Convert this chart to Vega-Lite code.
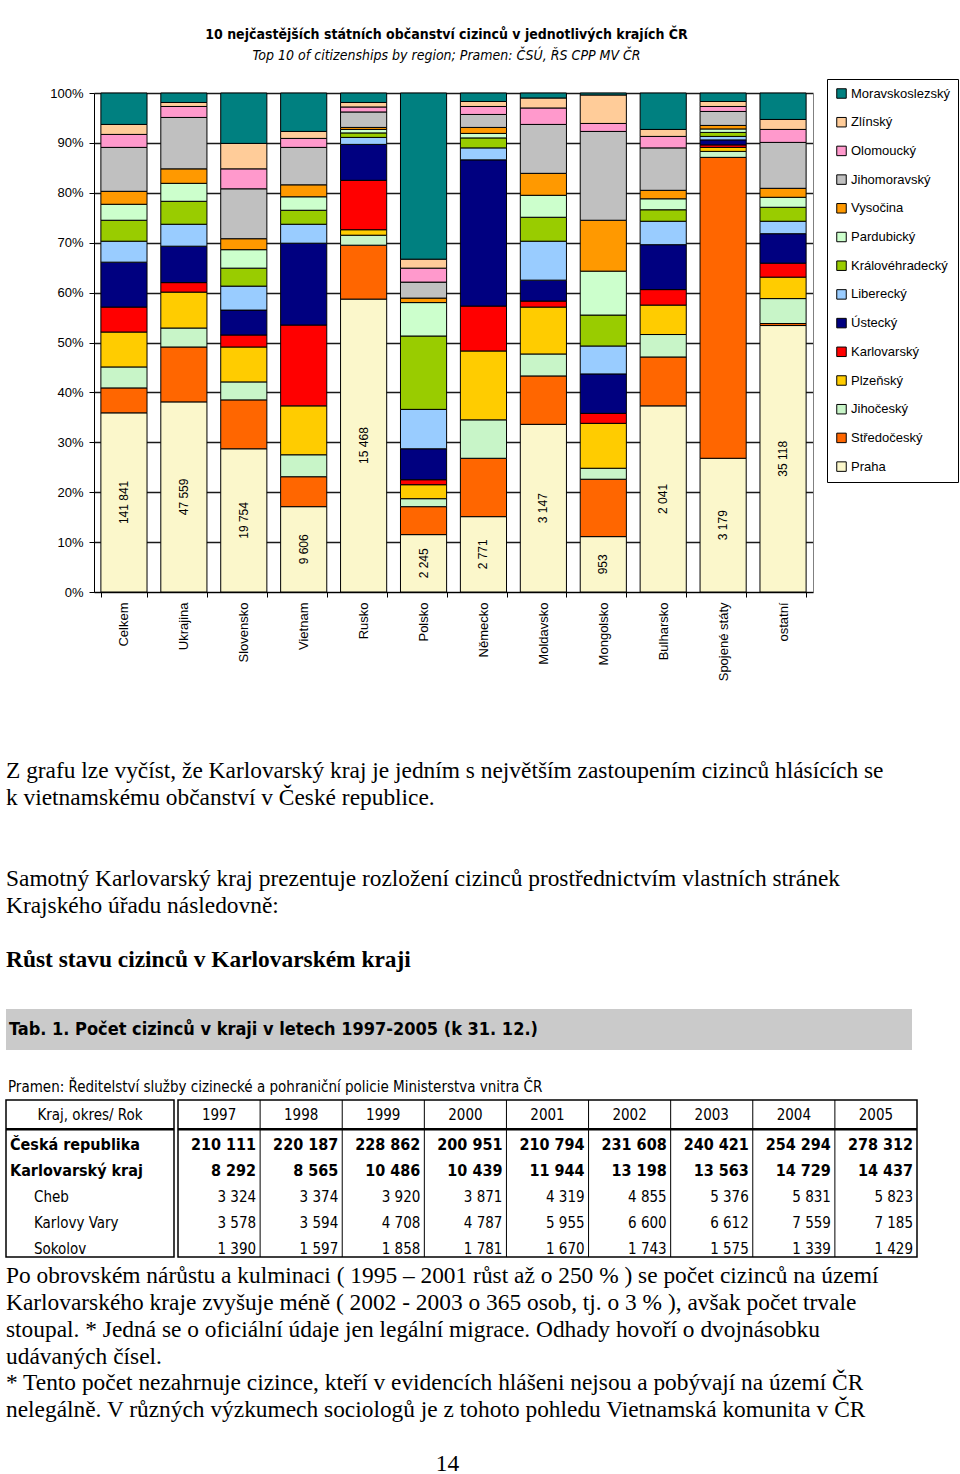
{
  "$schema": "https://vega.github.io/schema/vega-lite/v6.json",
  "background": "white",
  "padding": {"left": 0, "top": 28, "right": 0, "bottom": 0},
  "spacing": 0,
  "bounds": "full",
  "align": "none",
  "columns": 1,
  "config": {
    "view": {"stroke": null},
    "font": "Liberation Sans",
    "locale": {"number": {"decimal": ",", "thousands": " ", "grouping": [3], "currency": ["", ""]}},
    "axis": {"labelFont": "Liberation Sans", "labelColor": "#000", "domainColor": "#000", "tickColor": "#000"}
  },
  "datasets": {
    "bars": [
      {"country": "Celkem", "total": 141841, "Praha": 35.9, "Středočeský": 5.0, "Jihočeský": 4.2, "Plzeňský": 7.0, "Karlovarský": 5.0, "Ústecký": 9.0, "Liberecký": 4.2, "Královéhradecký": 4.2, "Pardubický": 3.2, "Vysočina": 2.6, "Jihomoravský": 8.8, "Olomoucký": 2.6, "Zlínský": 2.0, "Moravskoslezský": 6.3},
      {"country": "Ukrajina", "total": 47559, "Praha": 38.1, "Středočeský": 11.0, "Jihočeský": 3.8, "Plzeňský": 7.2, "Karlovarský": 1.9, "Ústecký": 7.3, "Liberecký": 4.4, "Královéhradecký": 4.6, "Pardubický": 3.6, "Vysočina": 2.9, "Jihomoravský": 10.3, "Olomoucký": 2.2, "Zlínský": 0.8, "Moravskoslezský": 1.9},
      {"country": "Slovensko", "total": 19754, "Praha": 28.7, "Středočeský": 9.8, "Jihočeský": 3.6, "Plzeňský": 7.0, "Karlovarský": 2.4, "Ústecký": 5.0, "Liberecký": 4.8, "Královéhradecký": 3.6, "Pardubický": 3.7, "Vysočina": 2.2, "Jihomoravský": 10.0, "Olomoucký": 4.0, "Zlínský": 5.1, "Moravskoslezský": 10.1},
      {"country": "Vietnam", "total": 9606, "Praha": 17.1, "Středočeský": 6.0, "Jihočeský": 4.4, "Plzeňský": 9.8, "Karlovarský": 16.2, "Ústecký": 16.4, "Liberecký": 3.8, "Královéhradecký": 2.8, "Pardubický": 2.7, "Vysočina": 2.4, "Jihomoravský": 7.5, "Olomoucký": 1.8, "Zlínský": 1.4, "Moravskoslezský": 7.7},
      {"country": "Rusko", "total": 15468, "Praha": 58.7, "Středočeský": 10.8, "Jihočeský": 2.0, "Plzeňský": 1.1, "Karlovarský": 9.9, "Ústecký": 7.2, "Liberecký": 1.4, "Královéhradecký": 0.9, "Pardubický": 0.7, "Vysočina": 0.4, "Jihomoravský": 3.1, "Olomoucký": 1.0, "Zlínský": 0.9, "Moravskoslezský": 1.9},
      {"country": "Polsko", "total": 2245, "Praha": 11.5, "Středočeský": 5.6, "Jihočeský": 1.6, "Plzeňský": 2.8, "Karlovarský": 1.0, "Ústecký": 6.2, "Liberecký": 7.9, "Královéhradecký": 14.7, "Pardubický": 6.7, "Vysočina": 0.9, "Jihomoravský": 3.2, "Olomoucký": 2.8, "Zlínský": 1.8, "Moravskoslezský": 33.3},
      {"country": "Německo", "total": 2771, "Praha": 15.1, "Středočeský": 11.7, "Jihočeský": 7.7, "Plzeňský": 13.8, "Karlovarský": 9.0, "Ústecký": 29.3, "Liberecký": 2.4, "Královéhradecký": 2.0, "Pardubický": 0.9, "Vysočina": 1.2, "Jihomoravský": 2.6, "Olomoucký": 1.6, "Zlínský": 1.0, "Moravskoslezský": 1.7},
      {"country": "Moldavsko", "total": 3147, "Praha": 33.6, "Středočeský": 9.7, "Jihočeský": 4.4, "Plzeňský": 9.4, "Karlovarský": 1.2, "Ústecký": 4.2, "Liberecký": 7.8, "Královéhradecký": 4.8, "Pardubický": 4.4, "Vysočina": 4.4, "Jihomoravský": 9.8, "Olomoucký": 3.3, "Zlínský": 2.0, "Moravskoslezský": 1.0},
      {"country": "Mongolsko", "total": 953, "Praha": 11.1, "Středočeský": 11.5, "Jihočeský": 2.2, "Plzeňský": 9.0, "Karlovarský": 2.0, "Ústecký": 7.9, "Liberecký": 5.6, "Královéhradecký": 6.2, "Pardubický": 8.8, "Vysočina": 10.2, "Jihomoravský": 17.8, "Olomoucký": 1.6, "Zlínský": 5.7, "Moravskoslezský": 0.4},
      {"country": "Bulharsko", "total": 2041, "Praha": 37.3, "Středočeský": 9.8, "Jihočeský": 4.5, "Plzeňský": 5.9, "Karlovarský": 3.1, "Ústecký": 9.0, "Liberecký": 4.7, "Královéhradecký": 2.3, "Pardubický": 2.2, "Vysočina": 1.7, "Jihomoravský": 8.5, "Olomoucký": 2.3, "Zlínský": 1.4, "Moravskoslezský": 7.3},
      {"country": "Spojené státy", "total": 3179, "Praha": 26.8, "Středočeský": 60.3, "Jihočeský": 1.2, "Plzeňský": 0.8, "Karlovarský": 0.5, "Ústecký": 1.0, "Liberecký": 0.7, "Královéhradecký": 0.8, "Pardubický": 0.7, "Vysočina": 0.7, "Jihomoravský": 2.8, "Olomoucký": 1.0, "Zlínský": 1.0, "Moravskoslezský": 1.7},
      {"country": "ostatní", "total": 35118, "Praha": 53.4, "Středočeský": 0.4, "Jihočeský": 5.0, "Plzeňský": 4.3, "Karlovarský": 2.8, "Ústecký": 5.9, "Liberecký": 2.5, "Královéhradecký": 2.8, "Pardubický": 2.0, "Vysočina": 1.8, "Jihomoravský": 9.2, "Olomoucký": 2.6, "Zlínský": 2.0, "Moravskoslezský": 5.3}
    ],
    "table": [
      {"row": "Česká republika", "1997": 210111, "1998": 220187, "1999": 228862, "2000": 200951, "2001": 210794, "2002": 231608, "2003": 240421, "2004": 254294, "2005": 278312},
      {"row": "Karlovarský kraj", "1997": 8292, "1998": 8565, "1999": 10486, "2000": 10439, "2001": 11944, "2002": 13198, "2003": 13563, "2004": 14729, "2005": 14437},
      {"row": "Cheb", "1997": 3324, "1998": 3374, "1999": 3920, "2000": 3871, "2001": 4319, "2002": 4855, "2003": 5376, "2004": 5831, "2005": 5823},
      {"row": "Karlovy Vary", "1997": 3578, "1998": 3594, "1999": 4708, "2000": 4787, "2001": 5955, "2002": 6600, "2003": 6612, "2004": 7559, "2005": 7185},
      {"row": "Sokolov", "1997": 1390, "1998": 1597, "1999": 1858, "2000": 1781, "2001": 1670, "2002": 1743, "2003": 1575, "2004": 1339, "2005": 1429}
    ]
  },
  "concat": [
    {
      "title": {
        "text": "10 nejčastějších státních občanství cizinců v jednotlivých krajích ČR",
        "subtitle": "Top 10 of citizenships by region;  Pramen: ČSÚ, ŘS CPP MV ČR",
        "font": "Liberation Sans Narrow, DejaVu Sans Condensed, sans-serif",
        "fontSize": 14, "fontWeight": "bold", "color": "#000",
        "subtitleFont": "Liberation Sans Narrow, DejaVu Sans Condensed, sans-serif",
        "subtitleFontSize": 14, "subtitleFontStyle": "italic", "subtitleColor": "#000",
        "subtitlePadding": 7, "offset": 24, "anchor": "middle", "frame": "group", "dx": 37
      },
      "width": 807,
      "height": 499,
      "data": {"name": "bars"},
      "transform": [
        {"fold": ["Praha", "Středočeský", "Jihočeský", "Plzeňský", "Karlovarský", "Ústecký", "Liberecký", "Královéhradecký", "Pardubický", "Vysočina", "Jihomoravský", "Olomoucký", "Zlínský", "Moravskoslezský"], "as": ["kraj", "share"]},
        {"calculate": "indexof(['Praha','Středočeský','Jihočeský','Plzeňský','Karlovarský','Ústecký','Liberecký','Královéhradecký','Pardubický','Vysočina','Jihomoravský','Olomoucký','Zlínský','Moravskoslezský'], datum.kraj)", "as": "stackOrder"}
      ],
      "resolve": {"axis": {"y": "independent"}},
      "layer": [
        {
          "mark": {"type": "bar", "stroke": "#000", "strokeWidth": 1},
          "encoding": {
            "x": {
              "field": "country", "type": "nominal",
              "sort": ["Celkem", "Ukrajina", "Slovensko", "Vietnam", "Rusko", "Polsko", "Německo", "Moldavsko", "Mongolsko", "Bulharsko", "Spojené státy", "ostatní"],
              "scale": {"paddingInner": 0.23, "paddingOuter": 0.115, "range": [88, 807]},
              "axis": {"title": null, "labelAngle": -90, "tickBand": "extent", "labelFontSize": 13, "labelPadding": 5, "tickSize": 5, "minExtent": 162.5, "domainWidth": 1}
            },
            "y": {
              "field": "share", "type": "quantitative", "stack": "zero",
              "scale": {"domain": [0, 100], "nice": false},
              "axis": {"title": null, "values": [0, 10, 20, 30, 40, 50, 60, 70, 80, 90, 100], "labelExpr": "datum.value + '%'", "labelFontSize": 13, "labelPadding": 6, "tickSize": 5, "grid": true, "gridColor": "#1a1a1a", "gridWidth": 1.5, "offset": -88, "minExtent": 0}
            },
            "color": {
              "field": "kraj", "type": "nominal",
              "scale": {
                "domain": ["Moravskoslezský", "Zlínský", "Olomoucký", "Jihomoravský", "Vysočina", "Pardubický", "Královéhradecký", "Liberecký", "Ústecký", "Karlovarský", "Plzeňský", "Jihočeský", "Středočeský", "Praha"],
                "range": ["#008080", "#FFCC99", "#FF99CC", "#C0C0C0", "#FF9900", "#CCFFCC", "#99CC00", "#99CCFF", "#000080", "#FF0000", "#FFCC00", "#C8F5C8", "#FF6600", "#FBF7CB"]
              },
              "legend": {
                "title": null, "orient": "none", "legendX": 821, "legendY": -14,
                "symbolType": "square", "symbolSize": 90, "symbolStrokeColor": "#000", "symbolStrokeWidth": 1,
                "labelFontSize": 13, "labelFont": "Liberation Sans", "labelColor": "#000", "labelOffset": 3,
                "rowPadding": 13.7, "padding": 8, "strokeColor": "#000", "fillColor": "#fff"
              }
            },
            "order": {"field": "stackOrder", "type": "quantitative", "sort": "ascending"}
          }
        },
        {
          "transform": [{"filter": "datum.kraj === 'Praha'"}, {"calculate": "datum.share / 2", "as": "mid"}],
          "mark": {"type": "text", "angle": 270, "fontSize": 12, "font": "Liberation Sans", "color": "#000", "align": "center", "baseline": "middle"},
          "encoding": {
            "x": {"field": "country", "type": "nominal", "sort": ["Celkem", "Ukrajina", "Slovensko", "Vietnam", "Rusko", "Polsko", "Německo", "Moldavsko", "Mongolsko", "Bulharsko", "Spojené státy", "ostatní"]},
            "y": {"field": "mid", "type": "quantitative", "axis": {"orient": "right", "title": null, "labels": false, "ticks": false, "grid": false, "domainColor": "#808080", "minExtent": 0}},
            "text": {"field": "total", "type": "quantitative", "format": ",d"}
          }
        }
      ]
    },
    {
      "width": 883,
      "height": 253.5,
      "data": {"values": [
        {"line": 0, "text": "Z grafu lze vyčíst, že  Karlovarský kraj je jedním s největším zastoupením cizinců hlásících se"},
        {"line": 1, "text": "k vietnamskému občanství v České republice."},
        {"line": 4, "text": "Samotný Karlovarský kraj prezentuje rozložení cizinců prostřednictvím vlastních stránek"},
        {"line": 5, "text": "Krajského úřadu následovně:"},
        {"line": 7, "text": "Růst stavu cizinců v Karlovarském kraji"}
      ]},
      "encoding": {
        "x": {"datum": 0, "type": "quantitative", "scale": {"domain": [0, 1]}, "axis": null},
        "y": {"field": "line", "type": "ordinal", "scale": {"type": "band", "domain": [0, 1, 2, 3, 4, 5, 6, 7], "paddingInner": 0, "paddingOuter": 0.694, "align": 0}, "axis": null},
        "text": {"field": "text"}
      },
      "layer": [
        {"transform": [{"filter": "datum.line !== 7"}], "mark": {"type": "text", "align": "left", "baseline": "middle", "font": "Liberation Serif", "fontSize": 23.4, "color": "#000", "dy": 2}},
        {"transform": [{"filter": "datum.line === 7"}], "mark": {"type": "text", "align": "left", "baseline": "middle", "font": "Liberation Serif", "fontSize": 23.4, "fontWeight": "bold", "color": "#000", "dy": 2}}
      ]
    },
    {
      "width": 906,
      "height": 41,
      "view": {"fill": "#CACACA", "stroke": null},
      "data": {"values": [{"t": "Tab. 1. Počet cizinců v kraji v letech 1997-2005 (k 31. 12.)"}]},
      "mark": {"type": "text", "align": "left", "baseline": "middle", "font": "Liberation Sans Narrow, DejaVu Sans Condensed, sans-serif", "fontSize": 18, "fontWeight": "bold", "color": "#000", "dx": 3},
      "encoding": {
        "x": {"datum": 0, "type": "quantitative", "scale": {"domain": [0, 1]}, "axis": null},
        "text": {"field": "t"}
      }
    },
    {
      "width": 906,
      "height": 48,
      "data": {"values": [{"t": "Pramen: Ředitelství služby cizinecké a pohraniční policie Ministerstva vnitra ČR"}]},
      "mark": {"type": "text", "align": "left", "baseline": "middle", "font": "Liberation Sans Narrow, DejaVu Sans Condensed, sans-serif", "fontSize": 15, "color": "#000", "dx": 2, "dy": 13},
      "encoding": {
        "x": {"datum": 0, "type": "quantitative", "scale": {"domain": [0, 1]}, "axis": null},
        "text": {"field": "t"}
      }
    },
    {
      "spacing": 0,
      "hconcat": [
        {
          "width": 168,
          "height": 157,
          "view": {"stroke": "#000", "strokeWidth": 1.5},
          "data": {"values": [
            {"row": "hdr", "label": "Kraj, okres/ Rok"},
            {"row": "Česká republika", "label": "Česká republika"},
            {"row": "Karlovarský kraj", "label": "Karlovarský kraj"},
            {"row": "Cheb", "label": "Cheb"},
            {"row": "Karlovy Vary", "label": "Karlovy Vary"},
            {"row": "Sokolov", "label": "Sokolov"}
          ]},
          "layer": [
            {
              "transform": [{"filter": "datum.row === 'hdr'"}],
              "mark": {"type": "text", "font": "Liberation Sans Narrow, DejaVu Sans Condensed, sans-serif", "fontSize": 15, "color": "#000", "dy": 2},
              "encoding": {
                "y": {"field": "row", "type": "nominal", "scale": {"type": "band", "domain": ["hdr", "Česká republika", "Karlovarský kraj", "Cheb", "Karlovy Vary", "Sokolov"], "paddingInner": 0, "paddingOuter": 0}, "axis": null},
                "text": {"field": "label"}
              }
            },
            {
              "transform": [{"filter": "datum.row === 'Česká republika' || datum.row === 'Karlovarský kraj'"}],
              "mark": {"type": "text", "align": "left", "font": "Liberation Sans Narrow, DejaVu Sans Condensed, sans-serif", "fontSize": 16, "fontWeight": "bold", "color": "#000", "dx": 4, "dy": 6},
              "encoding": {
                "x": {"datum": 0, "type": "quantitative", "scale": {"domain": [0, 1]}, "axis": null},
                "y": {"field": "row", "type": "nominal", "axis": null},
                "text": {"field": "label"}
              }
            },
            {
              "transform": [{"filter": "indexof(['Cheb','Karlovy Vary','Sokolov'], datum.row) >= 0"}],
              "mark": {"type": "text", "align": "left", "font": "Liberation Sans Narrow, DejaVu Sans Condensed, sans-serif", "fontSize": 15, "color": "#000", "dx": 28, "dy": 5},
              "encoding": {
                "x": {"datum": 0, "type": "quantitative", "scale": {"domain": [0, 1]}, "axis": null},
                "y": {"field": "row", "type": "nominal", "axis": null},
                "text": {"field": "label"}
              }
            },
            {
              "transform": [{"filter": "datum.row === 'Česká republika'"}],
              "mark": {"type": "rule", "color": "#000", "strokeWidth": 2.5, "yOffset": 3},
              "encoding": {
                "y": {"field": "row", "type": "nominal", "bandPosition": 0, "axis": null}
              }
            }
          ]
        },
        {
          "width": 739,
          "height": 157,
          "view": {"stroke": "#000", "strokeWidth": 1.5},
          "data": {"name": "table"},
          "layer": [
            {
              "data": {"values": [
                {"row": "hdr", "year": "1997"}, {"row": "hdr", "year": "1998"}, {"row": "hdr", "year": "1999"},
                {"row": "hdr", "year": "2000"}, {"row": "hdr", "year": "2001"}, {"row": "hdr", "year": "2002"},
                {"row": "hdr", "year": "2003"}, {"row": "hdr", "year": "2004"}, {"row": "hdr", "year": "2005"}
              ]},
              "mark": {"type": "text", "font": "Liberation Sans Narrow, DejaVu Sans Condensed, sans-serif", "fontSize": 15, "color": "#000", "dy": 2},
              "encoding": {
                "x": {"field": "year", "type": "nominal", "scale": {"type": "band", "domain": ["1997", "1998", "1999", "2000", "2001", "2002", "2003", "2004", "2005"], "paddingInner": 0, "paddingOuter": 0}, "axis": null},
                "y": {"field": "row", "type": "nominal", "scale": {"type": "band", "domain": ["hdr", "Česká republika", "Karlovarský kraj", "Cheb", "Karlovy Vary", "Sokolov"], "paddingInner": 0, "paddingOuter": 0}, "axis": null},
                "text": {"field": "year"}
              }
            },
            {
              "transform": [
                {"fold": ["1997", "1998", "1999", "2000", "2001", "2002", "2003", "2004", "2005"], "as": ["year", "value"]},
                {"filter": "datum.row === 'Česká republika' || datum.row === 'Karlovarský kraj'"}
              ],
              "mark": {"type": "text", "align": "right", "font": "Liberation Sans Narrow, DejaVu Sans Condensed, sans-serif", "fontSize": 16, "fontWeight": "bold", "color": "#000", "dx": -4, "dy": 6},
              "encoding": {
                "x": {"field": "year", "type": "nominal", "bandPosition": 1, "axis": null},
                "y": {"field": "row", "type": "nominal", "axis": null},
                "text": {"field": "value", "type": "quantitative", "format": ",d"}
              }
            },
            {
              "transform": [
                {"fold": ["1997", "1998", "1999", "2000", "2001", "2002", "2003", "2004", "2005"], "as": ["year", "value"]},
                {"filter": "datum.row !== 'Česká republika' && datum.row !== 'Karlovarský kraj'"}
              ],
              "mark": {"type": "text", "align": "right", "font": "Liberation Sans Narrow, DejaVu Sans Condensed, sans-serif", "fontSize": 15, "color": "#000", "dx": -4, "dy": 5},
              "encoding": {
                "x": {"field": "year", "type": "nominal", "bandPosition": 1, "axis": null},
                "y": {"field": "row", "type": "nominal", "axis": null},
                "text": {"field": "value", "type": "quantitative", "format": ",d"}
              }
            },
            {
              "transform": [
                {"fold": ["1998", "1999", "2000", "2001", "2002", "2003", "2004", "2005"], "as": ["year", "value"]},
                {"filter": "datum.row === 'Česká republika'"}
              ],
              "mark": {"type": "rule", "color": "#000", "strokeWidth": 1},
              "encoding": {
                "x": {"field": "year", "type": "nominal", "bandPosition": 0, "axis": null}
              }
            },
            {
              "transform": [{"filter": "datum.row === 'Česká republika'"}],
              "mark": {"type": "rule", "color": "#000", "strokeWidth": 2.5, "yOffset": 3},
              "encoding": {
                "y": {"field": "row", "type": "nominal", "bandPosition": 0, "axis": null}
              }
            }
          ]
        }
      ]
    },
    {
      "width": 883,
      "height": 214,
      "data": {"values": [
        {"line": 0, "text": "Po obrovském nárůstu a kulminaci ( 1995 – 2001 růst až o 250 % ) se  počet cizinců na území"},
        {"line": 1, "text": "Karlovarského kraje zvyšuje méně ( 2002 - 2003 o 365 osob, tj. o 3 % ), avšak počet trvale"},
        {"line": 2, "text": "stoupal. * Jedná se o oficiální údaje jen legální migrace.  Odhady hovoří o dvojnásobku"},
        {"line": 3, "text": "udávaných čísel."},
        {"line": 4, "text": "* Tento počet nezahrnuje cizince, kteří v evidencích hlášeni nejsou a pobývají na území ČR"},
        {"line": 5, "text": "nelegálně. V různých výzkumech sociologů je z tohoto pohledu Vietnamská komunita v ČR"},
        {"line": 7, "text": "14"}
      ]},
      "layer": [
        {
          "transform": [{"filter": "datum.line !== 7"}],
          "mark": {"type": "text", "align": "left", "baseline": "middle", "font": "Liberation Serif", "fontSize": 23.4, "color": "#000", "dy": 4},
          "encoding": {
            "x": {"datum": 0, "type": "quantitative", "scale": {"domain": [0, 1]}, "axis": null},
            "y": {"field": "line", "type": "ordinal", "scale": {"type": "band", "domain": [0, 1, 2, 3, 4, 5, 6, 7], "paddingInner": 0, "paddingOuter": 0}, "axis": null},
            "text": {"field": "text"}
          }
        },
        {
          "transform": [{"filter": "datum.line === 7"}],
          "mark": {"type": "text", "align": "center", "baseline": "middle", "font": "Liberation Serif", "fontSize": 23.4, "color": "#000", "dy": 4},
          "encoding": {
            "y": {"field": "line", "type": "ordinal", "axis": null},
            "text": {"field": "text"}
          }
        }
      ]
    }
  ]
}
